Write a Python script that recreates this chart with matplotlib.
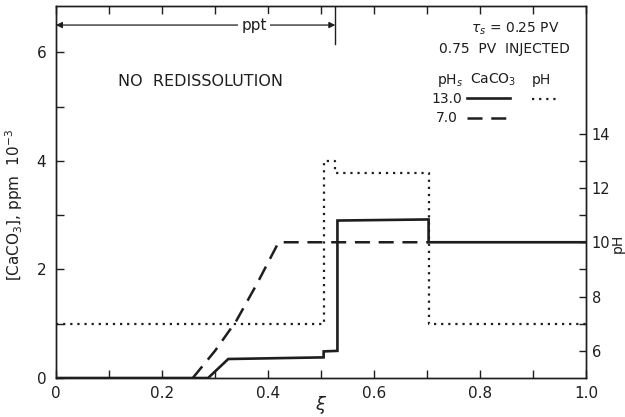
import numpy as np
import matplotlib
matplotlib.use("Agg")
import matplotlib.pyplot as plt
from matplotlib.lines import Line2D

# CaCO3 profile, injected pH 13.0
xi_13 = [0.0, 0.287, 0.325, 0.505, 0.505, 0.531, 0.531, 0.703, 0.703, 1.0]
caco3_13 = [0.0, 0.0, 0.35, 0.38, 0.49, 0.50, 2.90, 2.92, 2.50, 2.50]

# CaCO3 profile, injected pH 7.0
xi_7 = [0.258, 0.30, 0.34, 0.38, 0.42, 0.703]
caco3_7 = [0.0, 0.5, 1.05, 1.75, 2.5, 2.5]

# pH profile for the pH 13.0 case
xi_ph = [0.0, 0.505, 0.505, 0.527, 0.527, 0.703, 0.703, 1.0]
ph_13 = [7.0, 7.0, 13.0, 13.0, 12.55, 12.55, 7.0, 7.0]

ppt_front = 0.527

ink = "#1e1e1e"
plt.rcParams["font.family"] = "DejaVu Sans"

fig = plt.figure(figsize=(6.25, 4.17), dpi=100)
ax = fig.add_axes([0.0896, 0.0935, 0.848, 0.892])
ax2 = ax.twinx()

ax.plot(xi_13, caco3_13, color=ink, lw=1.9, solid_joinstyle="miter")
ax.plot(xi_7, caco3_7, color=ink, lw=1.8, dashes=(6, 3.5))
ax2.plot(xi_ph, ph_13, color=ink, lw=1.6, linestyle=(0, (1, 2.2)))

ax.set_xlim(0, 1.0)
ax.set_ylim(0, 6.85)
ax2.set_ylim(5, 18.7)

ax.set_xticks(np.arange(0, 1.01, 0.2))
ax.set_xticklabels(["0", "0.2", "0.4", "0.6", "0.8", "1.0"])
ax.set_xticks(np.arange(0.1, 1.0, 0.2), minor=True)
ax.set_yticks([0, 2, 4, 6])
ax.set_yticks([1, 3, 5], minor=True)
ax2.set_yticks([6, 8, 10, 12, 14])
ax2.set_yticks([7, 9, 11, 13], minor=True)

for a in (ax, ax2):
    for s in a.spines.values():
        s.set_color(ink)
        s.set_linewidth(1.0)
ax.tick_params(which="both", direction="in", length=6, width=1.0, color=ink,
               labelsize=11, labelcolor=ink, top=True, pad=7)
ax.tick_params(axis="x", which="both", pad=6)
ax2.tick_params(which="both", direction="in", length=5, width=1.0, color=ink,
                labelsize=10.5, labelcolor=ink, pad=4)

ax.text(0.5, -0.073, r"$\xi$", transform=ax.transAxes, fontsize=13,
        color=ink, ha="center", va="center")
ax.set_ylabel(r"[CaCO$_3$], ppm  10$^{-3}$", fontsize=11, color=ink)
ax.yaxis.set_label_coords(-0.058, 0.465)
ax.text(1.06, 0.363, "pH", transform=ax.transAxes, rotation=90,
        fontsize=10, color=ink, ha="center", va="center")

# precipitation zone arrow
ax.annotate("", xy=(0.0, 6.5), xytext=(ppt_front, 6.5),
            arrowprops=dict(arrowstyle="<|-|>", color=ink, lw=0.9,
                            mutation_scale=9, shrinkA=0, shrinkB=0))
ax.plot([ppt_front, ppt_front], [6.85, 6.15], color=ink, lw=1.0)
ax.text(0.374, 6.5, "ppt", fontsize=11, color=ink, ha="center", va="center",
        bbox=dict(facecolor="white", edgecolor="none", pad=2.5))

ax.text(0.117, 0.796, "NO  REDISSOLUTION", transform=ax.transAxes,
        fontsize=11.5, color=ink, ha="left", va="center")
ax.text(0.866, 0.938, r"$\tau_s$ = 0.25 PV", transform=ax.transAxes,
        fontsize=10, color=ink, ha="center", va="center")
ax.text(0.847, 0.884, "0.75  PV  INJECTED", transform=ax.transAxes,
        fontsize=10, color=ink, ha="center", va="center")

# legend table
ax.text(0.743, 0.801, r"pH$_s$", transform=ax.transAxes, fontsize=10,
        color=ink, ha="center", va="center")
ax.text(0.825, 0.801, r"CaCO$_3$", transform=ax.transAxes, fontsize=10,
        color=ink, ha="center", va="center")
ax.text(0.915, 0.801, "pH", transform=ax.transAxes, fontsize=10,
        color=ink, ha="center", va="center")
ax.text(0.738, 0.75, "13.0", transform=ax.transAxes, fontsize=10,
        color=ink, ha="center", va="center")
ax.text(0.738, 0.699, "7.0", transform=ax.transAxes, fontsize=10,
        color=ink, ha="center", va="center")
ax.add_line(Line2D([0.775, 0.857], [0.752, 0.752], transform=ax.transAxes,
                   color=ink, lw=1.9))
ax.add_line(Line2D([0.898, 0.947], [0.75, 0.75], transform=ax.transAxes,
                   color=ink, lw=1.6, linestyle=(0, (1, 2.2))))
ax.add_line(Line2D([0.775, 0.857], [0.699, 0.699], transform=ax.transAxes,
                   color=ink, lw=1.8, dashes=(6, 3.5)))

fig.savefig("out.png", dpi=100)
